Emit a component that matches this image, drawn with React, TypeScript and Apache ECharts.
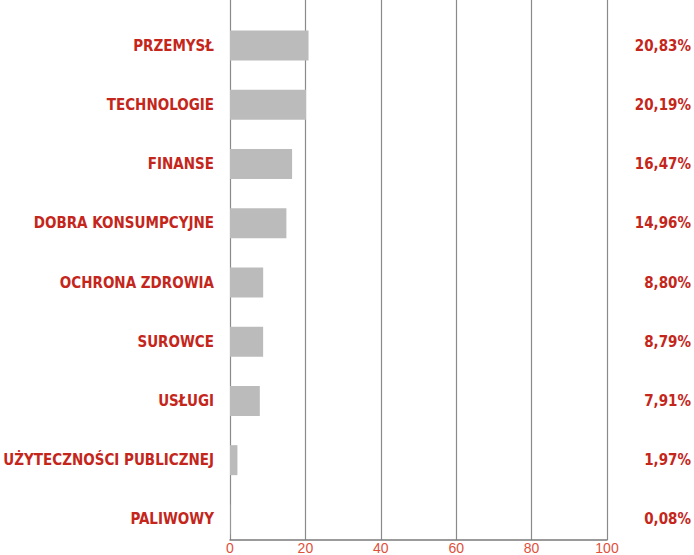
import React, { useEffect, useRef } from "react";
import * as echarts from "echarts";

const categories = [
  "PRZEMYSŁ",
  "TECHNOLOGIE",
  "FINANSE",
  "DOBRA KONSUMPCYJNE",
  "OCHRONA ZDROWIA",
  "SUROWCE",
  "USŁUGI",
  "UŻYTECZNOŚCI PUBLICZNEJ",
  "PALIWOWY",
];
const values = [20.83, 20.19, 16.47, 14.96, 8.8, 8.79, 7.91, 1.97, 0.08];
const xTicks = [0, 20, 40, 60, 80, 100];

const RED = "#c4261b";
const COND = "'Liberation Sans Narrow', 'DejaVu Sans Condensed', 'Roboto Condensed', sans-serif";

const fmt = (v: number) => v.toFixed(2).replace(".", ",") + "%";

export default function App() {
  const ref = useRef<HTMLDivElement>(null);
  useEffect(() => {
    if (!ref.current) return;
    const chart = echarts.init(ref.current, undefined, { renderer: "svg" });
    chart.setOption({
      animation: false,
      backgroundColor: "#ffffff",
      grid: [
        { left: 230, right: 87, top: 0, bottom: 15, outerBoundsMode: "none", containLabel: false },
        { left: 230, right: 87, top: 16, height: 533, outerBoundsMode: "none", containLabel: false },
      ],
      xAxis: [
        {
          gridIndex: 0,
          type: "value",
          min: xTicks[0],
          max: xTicks[xTicks.length - 1],
          interval: 20,
          axisLine: { show: true, lineStyle: { color: "#7a7a7a", width: 1.5 } },
          axisTick: { show: false },
          splitLine: { show: true, lineStyle: { color: "#8a8a8a", width: 1.2 } },
          axisLabel: {
            color: "#e0503c",
            fontSize: 14,
            lineHeight: 14,
            fontFamily: "'Liberation Sans', Arial, sans-serif",
            margin: 1,
          },
        },
        {
          gridIndex: 1,
          type: "value",
          min: 0,
          max: 100,
          show: false,
        },
      ],
      yAxis: [
        {
          gridIndex: 0,
          type: "category",
          data: categories,
          show: false,
        },
        {
          gridIndex: 1,
          type: "category",
          data: categories,
          inverse: true,
          position: "left",
          axisLine: { show: false },
          axisTick: { show: false },
          splitLine: { show: false },
          axisLabel: {
            color: RED,
            fontSize: 15,
            fontWeight: "bold",
            fontFamily: COND,
            margin: 16,
          },
        },
        {
          gridIndex: 1,
          type: "category",
          data: categories,
          inverse: true,
          position: "right",
          axisLine: { show: false },
          axisTick: { show: false },
          splitLine: { show: false },
          axisLabel: {
            color: RED,
            fontSize: 15,
            fontWeight: "bold",
            fontFamily: COND,
            align: "right",
            margin: 84,
            formatter: (_v: string, i: number) => fmt(values[i]),
          },
        },
      ],
      series: [
        {
          type: "bar",
          xAxisIndex: 1,
          yAxisIndex: 1,
          data: values,
          barWidth: 30,
          itemStyle: { color: "#bbbbbb" },
          silent: true,
        },
      ],
    });
    return () => chart.dispose();
  }, []);
  return (
    <div
      ref={ref}
      style={{ position: "fixed", left: 0, top: 0, width: 694, height: 555 }}
    />
  );
}
